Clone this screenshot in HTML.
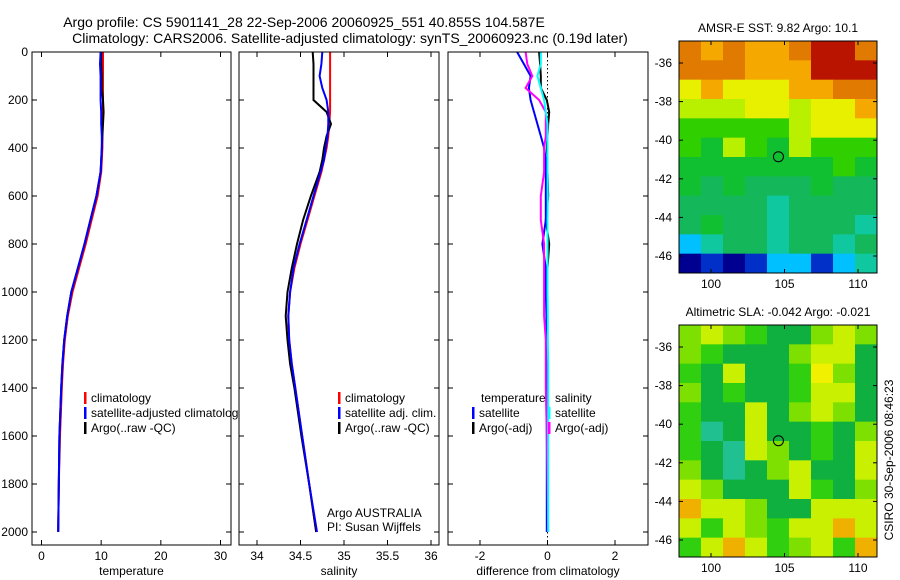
<!DOCTYPE html>
<html><head><meta charset="utf-8"><style>
html,body{margin:0;padding:0;background:#fff;}
svg{display:block;font-family:"Liberation Sans",Arial,sans-serif;}
text{fill:#000;}
</style></head><body>
<svg id="fig" width="900" height="580" viewBox="0 0 900 580" xmlns="http://www.w3.org/2000/svg">
<text x="304" y="27" font-size="14" text-anchor="middle">Argo profile: CS 5901141_28 22-Sep-2006 20060925_551 40.855S 104.587E</text>
<text x="350" y="43" font-size="14" text-anchor="middle">Climatology: CARS2006. Satellite-adjusted climatology: synTS_20060923.nc (0.19d later)</text>
<text x="778" y="32" font-size="12" text-anchor="middle">AMSR-E SST: 9.82 Argo: 10.1</text>
<text x="778" y="316" font-size="12" text-anchor="middle">Altimetric SLA: -0.042 Argo: -0.021</text>
<text transform="translate(893,460) rotate(-90)" font-size="12" text-anchor="middle">CSIRO 30-Sep-2006 08:46:23</text>
<g id="content"></g>
</svg>
<script>
// ---- data ----
const depths = [0,50,100,150,200,250,300,350,400,450,500,600,700,800,900,1000,1100,1200,1300,1400,1600,1800,2000];
const tempClim = [10.3,10.3,10.3,10.3,10.3,10.3,10.2,10.2,10.2,10.1,10.0,9.4,8.4,7.4,6.3,5.2,4.4,3.9,3.6,3.4,3.1,2.9,2.8];
const tempSat  = [9.9,9.8,9.9,9.9,9.9,10.0,10.0,10.1,10.1,10.0,9.9,9.2,8.2,7.2,6.1,5.0,4.3,3.8,3.5,3.3,3.0,2.9,2.8];
const tempArgo = [10.0,10.0,10.1,10.1,10.3,10.4,10.3,10.2,10.1,10.0,9.9,9.2,8.2,7.2,6.1,5.0,4.3,3.8,3.5,3.3,3.0,2.9,2.8];
const salClim = [34.84,34.84,34.84,34.84,34.84,34.84,34.83,34.82,34.80,34.77,34.74,34.66,34.58,34.50,34.43,34.38,34.36,34.37,34.40,34.44,34.52,34.60,34.68];
const salSat  = [34.75,34.74,34.72,34.75,34.80,34.82,34.82,34.81,34.79,34.77,34.73,34.65,34.57,34.49,34.42,34.38,34.36,34.37,34.40,34.44,34.52,34.60,34.69];
const salArgo = [34.64,34.65,34.65,34.65,34.65,34.80,34.85,34.80,34.77,34.75,34.72,34.62,34.53,34.46,34.40,34.35,34.33,34.35,34.38,34.43,34.51,34.60,34.68];
const dTempSat  = [-0.9,-0.7,-0.5,-0.55,-0.5,-0.4,-0.3,-0.2,-0.1,-0.05,-0.05,-0.05,-0.05,-0.15,-0.05,-0.05,-0.03,-0.02,-0.02,-0.02,-0.02,-0.02,-0.02];
const dTempArgo = [-0.25,-0.22,-0.2,-0.2,-0.02,0.05,0.02,0,-0.02,0,0,0.02,-0.05,0.05,0,0,0,0,0,0,null,null,null];
const dSalSat   = [-0.2,-0.2,-0.3,-0.2,-0.1,-0.05,0,0,0,0,0,0.01,0,0,0,0,0.01,0.01,0.02,0.02,0.02,0.02,0.02];
const dSalArgo  = [-0.65,-0.6,-0.45,-0.65,-0.25,-0.05,-0.05,-0.05,-0.1,-0.1,-0.1,-0.2,-0.2,-0.1,-0.1,-0.1,-0.1,-0.05,-0.05,-0.05,-0.02,0.0,0.02];
const depthTicks = [0,200,400,600,800,1000,1200,1400,1600,1800,2000];
const tempTicks = [0,10,20,30];
const salTicks = [34,34.5,35,35.5,36];
const diffTicks = [-2,0,2];
const latTicks = [-36,-38,-40,-42,-44,-46];
const lonTicks = [100,105,110];
const sstGrid = ["OoOooORRO","OOOoooRRR","YoYYYooOO","yyyYYyYYo","GGGGGyYYY","GgyGgyGGG","gggggggGg","gTgTTTgTT","TTTTtTTTT","TgTTtTTTt","CtTTtTTtT","NBNBCCBCt"];
const slaGrid = ["LyLGDDLyL","LGDDDLyyD","GDyDDGYLD","LDGDDGyyD","GDDyDLyLD","GtDyDDGDL","GDtyLDGDy","LDtDLyDDy","yLDDDyGDL","oyyLDDyyy","yGyLGyyoy","GyoyGLyGo"];

// ---- helpers ----
const NS="http://www.w3.org/2000/svg";
const root=document.getElementById('content');
function mk(tag,attrs,parent){const e=document.createElementNS(NS,tag);for(const k in attrs)e.setAttribute(k,attrs[k]);(parent||root).appendChild(e);return e;}
const Y0=52,Y1=545;
const yD=d=>52+d*0.24;
function lin(d0,d1,p0,p1){return v=>p0+(v-d0)*(p1-p0)/(d1-d0);}

function panel(name,x0,x1,xs,ticks,xlabel){
  const g=mk('g',{});
  
  
  mk('rect',{x:x0,y:Y0,width:x1-x0,height:Y1-Y0,fill:'#fff',stroke:'none'},g);
  depthTicks.forEach(d=>{const y=yD(d);
    mk('line',{x1:x0,y1:y,x2:x0+5,y2:y,stroke:'#000'},g);
    mk('line',{x1:x1-5,y1:y,x2:x1,y2:y,stroke:'#000'},g);});
  ticks.forEach(t=>{const x=xs(t);
    mk('line',{x1:x,y1:Y1,x2:x,y2:Y1-5,stroke:'#000'},g);
    mk('line',{x1:x,y1:Y0,x2:x,y2:Y0+5,stroke:'#000'},g);
    const tx=mk('text',{x:x,y:Y1+15,'font-size':12,'text-anchor':'middle'},g);tx.textContent=String(t);
    
    });
  const xl=mk('text',{x:(x0+x1)/2,y:575,'font-size':12,'text-anchor':'middle'},g);xl.textContent=xlabel;
  
  
  return g;
}
function line(g,xs,vals,color,name){
  let pts=[];vals.forEach((v,i)=>{if(v!==null)pts.push(xs(v).toFixed(1)+','+yD(depths[i]).toFixed(1));});
  const p=mk('polyline',{points:pts.join(' '),fill:'none',stroke:color,'stroke-width':2},g);
  
  
}
function frame(g,x0,x1){mk('rect',{x:x0,y:Y0,width:x1-x0,height:Y1-Y0,fill:'none',stroke:'#000'},g);}
function legend(g,x,y,color,label){
  mk('rect',{x:x,y:y-10,width:2.5,height:12,fill:color},g);
  const t=mk('text',{x:x+7,y:y,'font-size':12},g);t.textContent=label;
  
  
}

depthTicks.forEach(d=>{const t=mk('text',{x:28,y:yD(d)+4,'font-size':12,'text-anchor':'end'});t.textContent=d;
  
  });

const xT=lin(0,30,41.5,220.5);
const gT=panel('temperature-panel',32,231,xT,tempTicks,'temperature');
line(gT,xT,tempClim,'#f00','temp-climatology-line');
line(gT,xT,tempArgo,'#000','temp-argo-line');
line(gT,xT,tempSat,'#00f','temp-satellite-line');
legend(gT,84,402,'#f00','climatology');
legend(gT,84,417,'#00f','satellite-adjusted climatology');
legend(gT,84,432,'#000','Argo(..raw -QC)');

const xS=lin(34,36,257,431);
const gS=panel('salinity-panel',239,439,xS,salTicks,'salinity');
line(gS,xS,salClim,'#f00','sal-climatology-line');
line(gS,xS,salArgo,'#000','sal-argo-line');
line(gS,xS,salSat,'#00f','sal-satellite-line');
legend(gS,338,402,'#f00','climatology');
legend(gS,338,417,'#00f','satellite adj. clim.');
legend(gS,338,432,'#000','Argo(..raw -QC)');
const a1=mk('text',{x:327,y:517,'font-size':12},gS);a1.textContent='Argo AUSTRALIA';


const a2=mk('text',{x:327,y:531,'font-size':12},gS);a2.textContent='PI: Susan Wijffels';



const xDf=lin(-2,2,480,615);
const gD=panel('difference-panel',448,648,xDf,diffTicks,'difference from climatology');
for(let y=Y0;y<Y1;y+=4){mk('rect',{x:xDf(0)-0.5,y:y,width:1,height:1.5,fill:'#000'},gD);}
line(gD,xDf,dTempArgo,'#000','diff-temp-argo-line');
line(gD,xDf,dTempSat,'#00f','diff-temp-satellite-line');
line(gD,xDf,dSalArgo,'#f0f','diff-sal-argo-line');
line(gD,xDf,dSalSat,'#0ff','diff-sal-satellite-line');
const lt=mk('text',{x:481,y:402,'font-size':12},gD);lt.textContent='temperature';


const ls=mk('text',{x:555,y:402,'font-size':12},gD);ls.textContent='salinity';


legend(gD,472,417,'#00f','satellite');
legend(gD,472,432,'#000','Argo(-adj)');
legend(gD,548,417,'#0ff','satellite');
legend(gD,548,432,'#f0f','Argo(-adj)');

frame(gT,32,231);frame(gS,239,439);frame(gD,448,648);

const pal={R:'#b81400',O:'#e07a00',o:'#f5a800',Y:'#e8f000',y:'#b8f000',G:'#30d000',g:'#10c030',T:'#14b85a',t:'#10c8a0',C:'#00c0ff',B:'#0030c8',N:'#000090'};
const palSla={L:'#7ee000',y:'#c8f000',Y:'#f0f000',G:'#30d010',D:'#10b040',t:'#20c090',o:'#f0b000'};
function map(name,top,grid,colors){
  const x0=679,x1=877,y1=top+232;
  const g=mk('g',{});
  
  
  const cw=(x1-x0)/grid[0].length,ch=(y1-top)/grid.length;
  grid.forEach((row,r)=>{[...row].forEach((c,k)=>{
    mk('rect',{x:x0+k*cw,y:top+r*ch,width:cw+0.5,height:ch+0.5,fill:colors[c]},g);});});
  const lonX=lin(100,110,711,858);
  const latY=lin(-36,-46,top+22,top+215);
  latTicks.forEach(l=>{const y=latY(l);
    mk('line',{x1:x0,y1:y,x2:x0+4,y2:y,stroke:'#000'},g);
    mk('line',{x1:x1-4,y1:y,x2:x1,y2:y,stroke:'#000'},g);
    const t=mk('text',{x:672,y:y+4,'font-size':12,'text-anchor':'end'},g);t.textContent=String(l);
    
    });
  lonTicks.forEach(l=>{const x=lonX(l);
    mk('line',{x1:x,y1:top,x2:x,y2:top+4,stroke:'#000'},g);
    mk('line',{x1:x,y1:y1,x2:x,y2:y1-4,stroke:'#000'},g);
    const t=mk('text',{x:x,y:y1+15,'font-size':12,'text-anchor':'middle'},g);t.textContent=String(l);
    
    });
  const c=mk('circle',{cx:lonX(104.587),cy:latY(-40.855),r:5,fill:'none',stroke:'#000'},g);
  
  
  mk('rect',{x:x0,y:top,width:x1-x0,height:232,fill:'none',stroke:'#000'},g);
}
map('sst-map',41,sstGrid,pal);
map('sla-map',325,slaGrid,palSla);
</script>
</body></html>
